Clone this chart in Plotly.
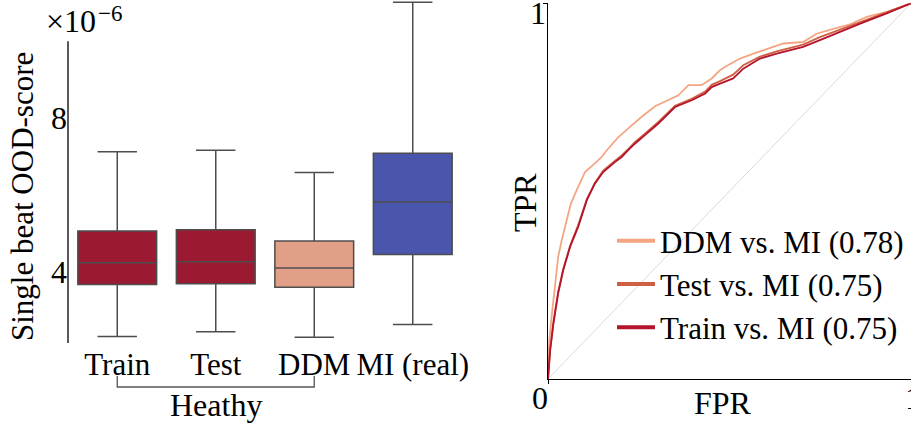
import plotly.graph_objects as go

W, H = 911, 425
FONT = "Liberation Serif"
FS = 32

# ---------------- data (OOD-scores in units of 1e-6) ----------------
categories = ["Train", "Test", "DDM", "MI (real)"]
q1_vals = [3.68, 3.70, 3.61, 4.46]
median_vals = [4.245, 4.27, 4.11, 5.82]
q3_vals = [5.07, 5.10, 4.81, 7.09]
lower_whisker = [2.33, 2.45, 2.31, 2.64]
upper_whisker = [7.13, 7.17, 6.59, 11.01]
y_tick_vals = [4, 8]

# ROC curves
fpr_ddm = [0.0, 0.003, 0.010, 0.019, 0.028, 0.038, 0.051, 0.063, 0.079, 0.102, 0.129, 0.148,
           0.162, 0.194, 0.226, 0.258, 0.295, 0.331, 0.359, 0.387, 0.423, 0.451, 0.474, 0.488,
           0.529, 0.566, 0.648, 0.703, 0.740, 0.786, 0.832, 0.878, 0.933, 1.0]
tpr_ddm = [0.0, 0.095, 0.166, 0.254, 0.325, 0.370, 0.423, 0.467, 0.503, 0.551, 0.574, 0.591,
           0.609, 0.644, 0.671, 0.698, 0.726, 0.742, 0.755, 0.782, 0.782, 0.800, 0.822, 0.831,
           0.853, 0.866, 0.893, 0.897, 0.919, 0.932, 0.944, 0.964, 0.977, 1.0]

fpr_train = [0.0, 0.006, 0.015, 0.028, 0.042, 0.061, 0.083, 0.107, 0.129, 0.152, 0.185, 0.203,
             0.221, 0.240, 0.267, 0.304, 0.350, 0.396, 0.433, 0.451, 0.474, 0.510, 0.538, 0.584,
             0.630, 0.703, 0.749, 0.804, 0.860, 0.933, 1.0]
tpr_train = [0.0, 0.077, 0.148, 0.228, 0.290, 0.352, 0.405, 0.476, 0.520, 0.551, 0.578, 0.591,
             0.609, 0.627, 0.649, 0.680, 0.724, 0.742, 0.760, 0.777, 0.786, 0.800, 0.826, 0.853,
             0.866, 0.884, 0.902, 0.924, 0.946, 0.973, 1.0]

fpr_test = [0.0, 0.006, 0.015, 0.028, 0.042, 0.061, 0.083, 0.107, 0.129, 0.152, 0.185, 0.203,
            0.221, 0.240, 0.267, 0.304, 0.350, 0.396, 0.433, 0.451, 0.474, 0.510, 0.538, 0.584,
            0.630, 0.703, 0.749, 0.804, 0.860, 0.933, 1.0]
tpr_test = [0.0, 0.080, 0.152, 0.232, 0.293, 0.355, 0.409, 0.479, 0.522, 0.555, 0.581, 0.595,
            0.612, 0.631, 0.653, 0.684, 0.727, 0.746, 0.765, 0.783, 0.793, 0.810, 0.835, 0.858,
            0.872, 0.890, 0.910, 0.930, 0.950, 0.975, 1.0]

chance_x = [0, 1]
chance_y = [0, 1]

roc_names = ["DDM vs. MI (0.78)", "Test vs. MI (0.75)", "Train vs. MI (0.75)"]
roc_colors = ["#f4a582", "#cf5f42", "#b5142d"]
box_fills = ["#9b1a32", "#9b1a32", "#e19f88", "#4a56ab"]
edge_color = "#4d4d4d"


def fx(p):
    return p / W


def fy(p):
    return 1 - p / H


fig = go.Figure()

# ---------------- left: box plots ----------------
for i, cat in enumerate(categories):
    fig.add_trace(go.Box(
        x=[cat], q1=[q1_vals[i]], median=[median_vals[i]], q3=[q3_vals[i]],
        lowerfence=[lower_whisker[i]], upperfence=[upper_whisker[i]],
        fillcolor=box_fills[i], line=dict(color=edge_color, width=1.5),
        width=0.8, whiskerwidth=0.5, boxpoints=False, showlegend=False,
        hoverinfo="skip", xaxis="x", yaxis="y"))

# ---------------- right: ROC ----------------
fig.add_trace(go.Scatter(x=chance_x, y=chance_y, mode="lines",
                         line=dict(color="#d9d9d9", width=1), showlegend=False,
                         xaxis="x2", yaxis="y2"))
roc_data = [(fpr_ddm, tpr_ddm), (fpr_test, tpr_test), (fpr_train, tpr_train)]
for (fx_, ty_), name, col in zip(roc_data, roc_names, roc_colors):
    fig.add_trace(go.Scatter(x=fx_, y=ty_, mode="lines", line=dict(color=col, width=1.8),
                             showlegend=False, xaxis="x2", yaxis="y2"))
for name, col in zip(roc_names, roc_colors):
    fig.add_trace(go.Scatter(x=[None], y=[None], mode="lines", name=name,
                             line=dict(color=col, width=4), xaxis="x2", yaxis="y2"))

fig.update_layout(
    width=W, height=H,
    margin=dict(l=0, r=0, t=0, b=0, autoexpand=False),
    paper_bgcolor="white", plot_bgcolor="white",
    font=dict(family=FONT, size=FS, color="black"),
    boxmode="overlay",
    xaxis=dict(domain=[fx(68), fx(462)], range=[-0.5, 3.5], type="category",
               categoryorder="array", categoryarray=categories, automargin=False,
               showline=False, showgrid=False, zeroline=False, ticks="", tickangle=0,
               ticklabelstandoff=0,
               tickfont=dict(family=FONT, size=31, color="black"), anchor="y"),
    yaxis=dict(domain=[fy(343), 1.0], range=[2.16, 11.07], tickvals=y_tick_vals,
               ticktext=[str(v) for v in y_tick_vals], automargin=False,
               showline=False, showgrid=False, zeroline=False, ticks="",
               tickfont=dict(family=FONT, size=FS, color="black"), anchor="x"),
    xaxis2=dict(domain=[fx(548), 1.0], range=[0, 1], tickvals=[0, 1],
                showline=True, linecolor="black", linewidth=1.3, ticks="outside",
                ticklen=4, tickcolor="black", showgrid=False, zeroline=False,
                automargin=False, showticklabels=False, anchor="y2"),
    yaxis2=dict(domain=[fy(379), fy(3.3)], range=[0, 1], tickvals=[1],
                showline=True, linecolor="black", linewidth=1.3, ticks="outside",
                ticklen=4, tickcolor="black", showgrid=False, zeroline=False,
                automargin=False, showticklabels=False, anchor="x2"),
    legend=dict(x=fx(612), y=fy(214), xanchor="left", yanchor="top", itemwidth=38,
                bgcolor="rgba(0,0,0,0)", font=dict(family=FONT, size=31, color="black"),
                tracegroupgap=0),
)

# left y spine (trimmed)
fig.add_shape(type="line", xref="x domain", yref="y", x0=0, x1=0, y0=2.16, y1=10,
              line=dict(color="black", width=1.3))
# "Heathy" bracket
fig.add_shape(type="path", xref="x", yref="paper",
              path=f"M 0,{fy(376)} L 0,{fy(387)} L 2,{fy(387)} L 2,{fy(376)}",
              line=dict(color="#555555", width=1.3))

ann = [
    dict(text="×10", x=fx(44), y=fy(21), xanchor="left", yanchor="middle", size=32),
    dict(text="−6", x=fx(96), y=fy(13), xanchor="left", yanchor="middle", size=23),
    dict(text="Single beat OOD-score", x=fx(22), y=fy(197), textangle=-90,
         xanchor="center", yanchor="middle", size=31),
    dict(text="Heathy", x=fx(216), y=fy(405), xanchor="center", yanchor="middle", size=FS),
    dict(text="TPR", x=fx(525), y=fy(203), textangle=-90, xanchor="center",
         yanchor="middle", size=FS),
    dict(text="FPR", x=fx(723), y=fy(403), xanchor="center", yanchor="middle", size=FS),
    dict(text="1", x=fx(538), y=fy(13), xanchor="center", yanchor="middle", size=FS),
    dict(text="0", x=fx(540), y=fy(398), xanchor="center", yanchor="middle", size=FS),
    dict(text="1", x=fx(913), y=fy(398), xanchor="center", yanchor="middle", size=FS),
]
for a in ann:
    sz = a.pop("size")
    fig.add_annotation(xref="paper", yref="paper", showarrow=False,
                       font=dict(family=FONT, size=sz, color="black"), **a)

fig.write_html("out.html", config={"displayModeBar": False},
               post_script="document.body.style.margin='0';document.body.style.overflow='hidden';")
